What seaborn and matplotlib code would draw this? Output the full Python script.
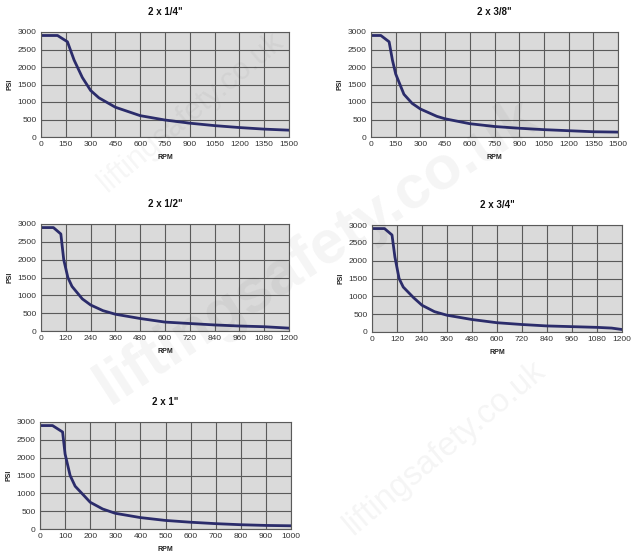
import matplotlib
matplotlib.use("Agg")
import matplotlib.pyplot as plt
import seaborn as sns
import pandas as pd

sns.set_theme(style="whitegrid")
plt.rcParams['font.family'] = ['Liberation Sans', 'DejaVu Sans']

titles = ['2 x 1/4"', '2 x 3/8"', '2 x 1/2"', '2 x 3/4"', '2 x 1"']

rpm_14 = [0, 100, 160, 200, 250, 300, 350, 450, 600, 750, 900, 1050, 1200, 1350, 1500]
psi_14 = [2900, 2900, 2720, 2200, 1700, 1330, 1120, 850, 610, 485, 395, 325, 270, 225, 195]

rpm_38 = [0, 60, 110, 130, 150, 200, 250, 300, 400, 450, 600, 750, 900, 1050, 1200, 1350, 1500]
psi_38 = [2900, 2900, 2720, 2200, 1800, 1220, 960, 800, 590, 520, 380, 300, 250, 210, 180, 150, 140]

rpm_12 = [0, 60, 96, 110, 130, 150, 200, 240, 300, 360, 480, 600, 720, 840, 960, 1080, 1200]
psi_12 = [2900, 2900, 2720, 2000, 1500, 1250, 900, 730, 570, 470, 350, 250, 210, 170, 140, 120, 80]

rpm_34 = [0, 60, 96, 110, 130, 150, 200, 240, 300, 360, 480, 600, 720, 840, 960, 1080, 1150, 1200]
psi_34 = [2900, 2900, 2720, 2100, 1500, 1260, 960, 750, 570, 470, 350, 260, 210, 170, 150, 130, 110, 70]

rpm_1 = [0, 50, 90, 100, 120, 140, 200, 250, 300, 400, 500, 600, 700, 800, 900, 1000]
psi_1 = [2900, 2900, 2720, 2100, 1500, 1200, 750, 560, 440, 320, 240, 190, 150, 120, 100, 90]

series = [(rpm_14, psi_14), (rpm_38, psi_38), (rpm_12, psi_12), (rpm_34, psi_34), (rpm_1, psi_1)]
xmax = [1500, 1500, 1200, 1200, 1000]
xstep = [150, 150, 120, 120, 100]

W, H = 635, 560
# axes boxes in pixels: left, top, right, bottom
boxes = [(41, 32, 289, 137), (371, 32, 618, 137), (41, 224, 289, 331),
         (372, 225, 622, 332), (40, 422, 291, 529)]

fig = plt.figure(figsize=(W / 100, H / 100), dpi=100)
fig.patch.set_facecolor('white')

# watermark text
fig.text(0.50, 0.55, 'liftingsafety.co.uk', fontsize=44, color='#000000', alpha=0.045,
         rotation=33, ha='center', va='center', fontweight='bold')
fig.text(0.30, 0.80, 'liftingsafety.co.uk', fontsize=22, color='#000000', alpha=0.04,
         rotation=40, ha='center', va='center')
fig.text(0.70, 0.20, 'liftingsafety.co.uk', fontsize=24, color='#000000', alpha=0.045,
         rotation=40, ha='center', va='center')

line_color = '#2b2c6b'
for i, ((xs, ys), (l, t, r, b)) in enumerate(zip(series, boxes)):
    ax = fig.add_axes([l / W, 1 - b / H, (r - l) / W, (b - t) / H])
    df = pd.DataFrame({'RPM': xs, 'PSI': ys})
    sns.lineplot(data=df, x='RPM', y='PSI', ax=ax, color=line_color, linewidth=2.0)
    ax.set_facecolor('#dadada')
    ax.set_xlim(0, xmax[i])
    ax.set_ylim(0, 3000)
    ax.set_xticks(list(range(0, xmax[i] + 1, xstep[i])))
    ax.set_yticks(list(range(0, 3001, 500)))
    ax.grid(True, color='#5a5a5a', linewidth=0.8)
    for s in ax.spines.values():
        s.set_color('#5a5a5a')
        s.set_linewidth(0.8)
    ax.tick_params(axis='both', labelsize=6, length=0, pad=3, colors='#333333')
    ax.set_xlabel('RPM', fontsize=5, fontweight='bold', labelpad=4, color='#222222')
    ax.set_ylabel('PSI', fontsize=5, fontweight='bold', labelpad=3, color='#222222')
    ax.set_title(titles[i], fontsize=7, fontweight='bold', pad=12, color='#111111')

fig.savefig('out.png', dpi=100)
